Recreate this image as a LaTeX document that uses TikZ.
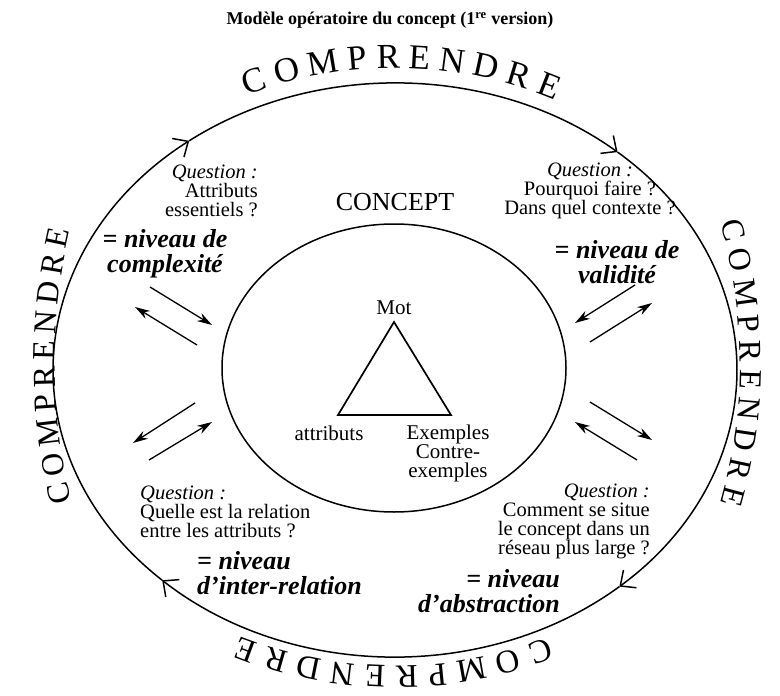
\documentclass[tikz,border=0pt]{standalone}
\usepackage{fontspec}
\setmainfont{Liberation Serif}
\usetikzlibrary{arrows.meta,shapes.geometric,decorations.text}

\begin{document}
\begin{tikzpicture}[x=1pt,y=-1pt,
  ring/.style={line width=1.5pt},
  pair/.style={line width=1.3pt,-{Stealth[length=15pt,width=9pt]}},
  quest/.style={inner sep=0pt,font=\fontsize{20.5}{19}\selectfont},
  level/.style={inner sep=0pt,font=\fontsize{26}{25}\selectfont\bfseries\itshape},
  corner/.style={inner sep=0pt,align=center,font=\fontsize{21}{19}\selectfont},
  wordarc/.style={decorate,decoration={text along path,text align=fit to path,
      text={|\fontsize{#1}{#1}\selectfont|COMPRENDRE}}}]
\useasboundingbox (0,0) rectangle (780,696);

\node[font=\fontsize{18}{18}\selectfont\bfseries] (title) at (390,20)
  {Modèle opératoire du concept (1\textsuperscript{re} version)};

\coordinate (mid) at (395,370);
\foreach \a/\b in {-127/-49.4,-49.4/49,49/132.9,132.9/233}
  \draw[ring,-{Straight Barb[length=12pt,width=22pt]}] (mid) ++(\a:342 and 287)
    arc[start angle=\a,end angle=\b,x radius=342,y radius=287];

\path[wordarc=35] (mid) ++(-114.5:357 and 302) arc[start angle=-114.5,end angle=-63.4,x radius=357,y radius=302];
\path[wordarc=33] (mid) ++(64.8:357 and 296) arc[start angle=64.8,end angle=115.7,x radius=357,y radius=296];
\path[wordarc=32] (395,362) ++(162:340 and 450) arc[start angle=162,end angle=197,x radius=340,y radius=450];
\path[wordarc=32] (395,363) ++(-19.5:345 and 420) arc[start angle=-19.5,end angle=19.5,x radius=345,y radius=420];

\node[draw,ellipse,line width=1.5pt,inner sep=0pt,minimum width=344pt,minimum height=288pt] (concept) at (394,368) {};
\node[font=\fontsize{26}{26}\selectfont] (conceptlbl) at (395,202) {CONCEPT};

\coordinate (top) at (394,322);
\coordinate (lft) at (338,415);
\coordinate (rgt) at (451,415);
\draw[line width=1.7pt] (top) -- (lft) -- (rgt) -- cycle;
\node[corner] (mot) at (394,308) {Mot};
\node[corner] (attr) at (329,433) {attributs};
\node[corner,anchor=north] (expl) at (448,425) {Exemples\\Contre-\\exemples};

\node[quest,anchor=east,align=right] (q1) at (258,191) {\textit{Question~:}\\Attributs\\essentiels ?};
\node[level,align=center] (n1) at (165,254) {= niveau de\\complexité};
\node[quest,align=center] (q2) at (590,191) {\textit{Question~:}\\Pourquoi faire ?\\Dans quel contexte ?};
\node[level,align=center] (n2) at (617,262) {= niveau de\\validité};
\node[quest,anchor=west,align=left] (q3) at (140,512) {\textit{Question~:}\\Quelle est la relation\\entre les attributs ?};
\node[level,anchor=west,align=left] (n3) at (197,573) {= niveau\\d'inter-relation};
\node[quest,anchor=east,align=right] (q4) at (650,521) {\textit{Question~:}\\Comment se situe\\le concept dans un\\réseau plus large ?};
\node[level,anchor=east,align=right] (n4) at (560,591) {= niveau\\d'abstraction};

\coordinate (tla) at (150,287); \coordinate (tlb) at (212,325);
\coordinate (tlc) at (197,345); \coordinate (tld) at (135,307);
\coordinate (tra) at (635,285); \coordinate (trb) at (575,323);
\coordinate (trc) at (590,342); \coordinate (trd) at (652,303);
\coordinate (bla) at (195,403); \coordinate (blb) at (133,443);
\coordinate (blc) at (149,460); \coordinate (bld) at (212,422);
\coordinate (bra) at (590,402); \coordinate (brb) at (652,440);
\coordinate (brc) at (637,460); \coordinate (brd) at (575,422);
\draw[pair] (tla) -- (tlb);
\draw[pair] (tlc) -- (tld);
\draw[pair] (tra) -- (trb);
\draw[pair] (trc) -- (trd);
\draw[pair] (bla) -- (blb);
\draw[pair] (blc) -- (bld);
\draw[pair] (bra) -- (brb);
\draw[pair] (brc) -- (brd);
\end{tikzpicture}
\end{document}
